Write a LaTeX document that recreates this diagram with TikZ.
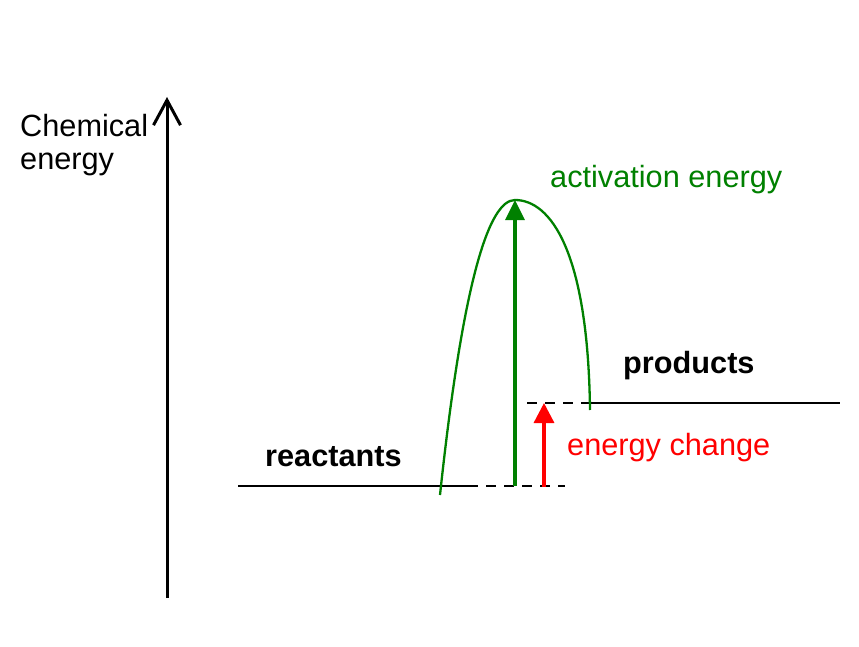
\documentclass[tikz,border=0pt]{standalone}
\usepackage{fontspec}
\setmainfont{Liberation Sans}
\usetikzlibrary{arrows.meta}
\usetikzlibrary{positioning}
\definecolor{CurveGreen}{HTML}{008000}
\definecolor{ChangeRed}{HTML}{FF0000}

\begin{document}
\begin{tikzpicture}[x=1pt,y=-1pt,
    level/.style={line width=2.6pt},
    guide/.style={line width=2.6pt, dash pattern=on 10pt off 8pt},
    tag/.style={font=\fontsize{30.7}{32}\selectfont, inner sep=0pt, anchor=base west}]
  \useasboundingbox (0,0) rectangle (859,647);

  \coordinate (axisbottom) at (167,598);
  \coordinate (axistop) at (167,97);
  \draw[line width=3pt, -{Straight Barb[length=25pt,width=27pt,line width=3pt]}] (axisbottom) -- (axistop);

  \coordinate (r0) at (238,486);
  \coordinate (r1) at (477,486);
  \coordinate (r2) at (565,486);
  \coordinate (p0) at (527,403);
  \coordinate (p1) at (590,403);
  \coordinate (p2) at (840,403);
  \draw[level] (r0) -- (r1);
  \draw[guide, dash phase=9pt] (r1) -- (r2);
  \draw[guide] (p0) -- (p1);
  \draw[level] (p1) -- (p2);

  \coordinate (leftfoot) at (440,495);
  \coordinate (peak) at (515,200);
  \coordinate (rightfoot) at (590,410);
  \draw[CurveGreen, line width=2.3pt] (leftfoot) .. controls (463,280) and (489,200) .. (peak)
    .. controls (550,200) and (588,250) .. (rightfoot);

  \coordinate (greenbase) at (515,486);
  \draw[CurveGreen, line width=3.3pt, -{Triangle[length=20pt,width=19pt]}] (greenbase) -- (peak);
  \coordinate (redbase) at (544,487);
  \coordinate (redtop) at (544,403);
  \draw[ChangeRed, line width=3.3pt, -{Triangle[length=20pt,width=20pt]}] (redbase) -- (redtop);

  \node[tag] (chem) at (20,137) {Chemical};
  \node[tag] (energy) at (20,170) {energy};
  \node[tag, text=CurveGreen] (activation) at (550,188) {activation energy};
  \node[tag, font=\fontsize{30.7}{32}\selectfont\bfseries] (products) at (623,373) {products};
  \node[tag, font=\fontsize{30.7}{32}\selectfont\bfseries] (reactants) at (265,466) {reactants};
  \node[tag, text=ChangeRed] (change) at (567,455) {energy change};
\end{tikzpicture}
\end{document}
